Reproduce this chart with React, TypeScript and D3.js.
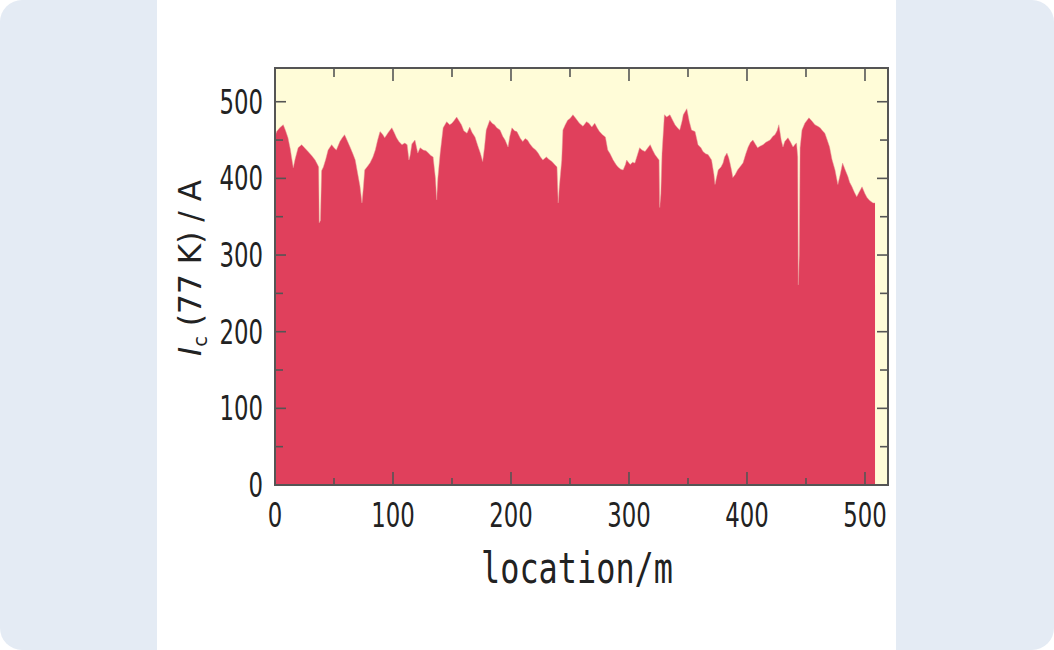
import React from "react";
import * as d3 from "d3";

const locations = [
  0, 1.4, 4, 7, 9, 11, 13, 14, 15.5, 17, 19.6, 22.6, 25, 28, 31, 34, 36, 37, 37.5, 38.5, 39.5, 41, 43, 45, 48, 50, 52, 55, 57, 59, 61, 63.6, 66, 68, 70, 72, 73.7, 75, 76, 78, 80.5, 83, 85, 87, 89, 91, 93, 96, 99, 101, 103, 105, 107.6, 110, 112, 113.5, 114.5, 116, 118.6, 121, 123, 125.6, 128, 130, 132, 134, 136, 137, 138, 140, 142.5, 145.5, 148, 150, 152, 154, 156, 158, 160, 162.7, 165, 167, 169.5, 172, 174, 176, 177.5, 179, 182, 184, 186, 188, 190.7, 193, 195, 197.5, 199, 200.8, 203, 205, 208, 210, 212, 214, 216, 218.6, 221, 223, 225, 227, 230, 232, 234.7, 237, 239, 240, 241, 243, 244, 246, 248, 250, 252.5, 255, 258, 261, 264, 266, 268.5, 271, 273, 275, 277.5, 280, 282, 284, 286.6, 289, 290.7, 293, 295, 297, 298, 301, 303, 305, 307, 309, 311, 313.6, 316, 318, 320, 322, 324, 325.5, 326, 327, 328, 330, 332, 334.7, 337, 339, 341, 343, 345, 346, 349, 351, 353, 356, 358.5, 361, 362.7, 365, 367, 370, 372, 372.9, 374, 375.6, 378, 379.7, 381, 383, 384.5, 385.6, 387, 388, 390, 392, 394, 396.6, 399, 401, 403, 405, 407, 409, 411, 413.6, 416, 419.5, 422, 423.7, 425.5, 427, 429, 430.5, 432, 434.7, 437, 439, 441, 442, 443, 443.5, 444.3, 445, 446.6, 449, 452.5, 455, 457.6, 460, 462, 464, 466, 468, 470, 472, 474.6, 476, 477, 479, 481, 483, 485.6, 487, 489, 491, 493, 495, 497.5, 500, 501.7, 504, 506.8, 508.5,
];

const icValues = [
  455, 461, 466, 470, 462, 453, 438, 428, 414, 425, 440, 444, 440, 435, 430, 424, 418, 415, 342, 345, 410, 415, 425, 437, 444, 440, 437, 448, 453, 457, 450, 441, 432, 424, 407, 390, 368, 390, 411, 415, 420, 428, 437, 450, 461, 458, 453, 460, 466, 460, 453, 448, 444, 446, 444, 424, 430, 445, 450, 433, 440, 437, 436, 433, 430, 428, 400, 372, 400, 433, 466, 474, 470, 472, 476, 480, 475, 470, 462, 459, 467, 460, 454, 442, 433, 422, 440, 463, 476, 472, 470, 466, 463, 455, 450, 441, 455, 466, 462, 461, 452, 448, 452, 450, 445, 440, 437, 433, 428, 424, 428, 425, 422, 418, 415, 368, 390, 424, 463, 470, 476, 478, 483, 478, 472, 468, 474, 472, 467, 472, 466, 461, 457, 454, 437, 432, 424, 418, 415, 412, 411, 418, 424, 418, 421, 420, 430, 440, 437, 435, 440, 444, 437, 431, 427, 424, 362, 380, 433, 483, 480, 483, 476, 470, 466, 463, 475, 483, 491, 475, 463, 461, 444, 440, 435, 432, 431, 424, 405, 392, 400, 411, 415, 420, 428, 433, 427, 420, 410, 401, 405, 411, 415, 420, 432, 441, 447, 450, 445, 440, 442, 444, 447, 450, 455, 457, 462, 470, 450, 441, 448, 453, 447, 441, 445, 446, 428, 261, 300, 440, 463, 472, 479, 475, 470, 468, 466, 462, 459, 450, 441, 425, 411, 400, 392, 405, 420, 412, 402, 395, 389, 382, 376, 382, 389, 380, 375, 371, 368, 368,
];

const xTicks = [0, 100, 200, 300, 400, 500];
const yTicks = [0, 100, 200, 300, 400, 500];
const xTitle = "location/m";

const W = 1054;
const H = 650;
const plot = { left: 275, right: 888, top: 68, bottom: 485 };

export default function App() {
  const x = d3.scaleLinear().domain([0, 519.5]).range([plot.left, plot.right]);
  const y = d3.scaleLinear().domain([0, 544]).range([plot.bottom, plot.top]);
  const data = locations.map((l, i) => ({ l, v: icValues[i] }));
  const area = d3
    .area<{ l: number; v: number }>()
    .x((d) => x(d.l))
    .y0(y(0))
    .y1((d) => y(d.v))
    .curve(d3.curveLinear);
  const line = d3
    .line<{ l: number; v: number }>()
    .x((d) => x(d.l))
    .y((d) => y(d.v));

  const xMinor = d3.range(0, 520, 50);
  const yMinor = d3.range(0, 545, 50);
  const frame = "#555";
  const textColor = "#222";
  const numFont = "'Liberation Sans Narrow', 'DejaVu Sans Condensed', 'Liberation Sans', sans-serif";
  const digitW = 14.5;

  return (
    <svg
      width={W}
      height={H}
      style={{ position: "absolute", left: 0, top: 0, display: "block" }}
    >
      <rect x={0} y={0} width={W} height={H} fill="#ffffff" />
      <rect x={0} y={0} width={W} height={H} rx={22} ry={22} fill="#e4ebf4" />
      <rect x={157} y={0} width={739} height={H} fill="#ffffff" />

      <rect
        x={plot.left}
        y={plot.top}
        width={plot.right - plot.left}
        height={plot.bottom - plot.top}
        fill="#fffcd8"
      />
      <path d={area(data) || ""} fill="#e0405c" />
      <path d={line(data) || ""} fill="none" stroke="#e89a9a" strokeWidth={0.8} opacity={0.6} />

      {/* ticks */}
      {xMinor.map((t) => {
        const major = t % 100 === 0;
        const len = major ? 13 : 7;
        return (
          <g key={"xt" + t}>
            <line x1={x(t)} x2={x(t)} y1={plot.bottom} y2={plot.bottom - len} stroke={frame} strokeWidth={1.6} />
            <line x1={x(t)} x2={x(t)} y1={plot.top} y2={plot.top + (major ? 13 : 9)} stroke={frame} strokeWidth={1.6} />
          </g>
        );
      })}
      {yMinor.map((t) => {
        const major = t % 100 === 0;
        const len = major ? 11 : 8;
        return (
          <g key={"yt" + t}>
            <line x1={plot.left} x2={plot.left + len} y1={y(t)} y2={y(t)} stroke={frame} strokeWidth={1.6} />
            <line x1={plot.right} x2={plot.right - len} y1={y(t)} y2={y(t)} stroke={frame} strokeWidth={1.6} />
          </g>
        );
      })}

      <rect
        x={plot.left}
        y={plot.top}
        width={plot.right - plot.left}
        height={plot.bottom - plot.top}
        fill="none"
        stroke={frame}
        strokeWidth={2}
      />

      {/* x tick labels */}
      {xTicks.map((t) => (
        <text
          key={"xl" + t}
          x={x(t)}
          y={527}
          textAnchor="middle"
          fontFamily={numFont}
          fontSize={33}
          textLength={String(t).length * digitW}
          lengthAdjust="spacingAndGlyphs"
          fill={textColor}
        >
          {t}
        </text>
      ))}
      {/* y tick labels */}
      {yTicks.map((t) => (
        <text
          key={"yl" + t}
          x={263}
          y={y(t) + 12}
          textAnchor="end"
          fontFamily={numFont}
          fontSize={33}
          textLength={String(t).length * digitW}
          lengthAdjust="spacingAndGlyphs"
          fill={textColor}
        >
          {t}
        </text>
      ))}

      {/* x title */}
      <text
        x={577}
        y={583}
        textAnchor="middle"
        fontFamily="'DejaVu Sans Mono', 'Liberation Mono', monospace"
        fontSize={42}
        textLength={192}
        lengthAdjust="spacingAndGlyphs"
        fill={textColor}
      >
        {xTitle}
      </text>

      {/* y title */}
      <text
        transform={`translate(201, 268) rotate(-90)`}
        textAnchor="middle"
        fontFamily={numFont}
        fontSize={32}
        textLength={176}
        lengthAdjust="spacingAndGlyphs"
        fill={textColor}
      >
        <tspan fontStyle="italic">I</tspan>
        <tspan fontSize={20} dy={6}>c</tspan>
        <tspan dy={-6}> (77 K) / A</tspan>
      </text>
    </svg>
  );
}
